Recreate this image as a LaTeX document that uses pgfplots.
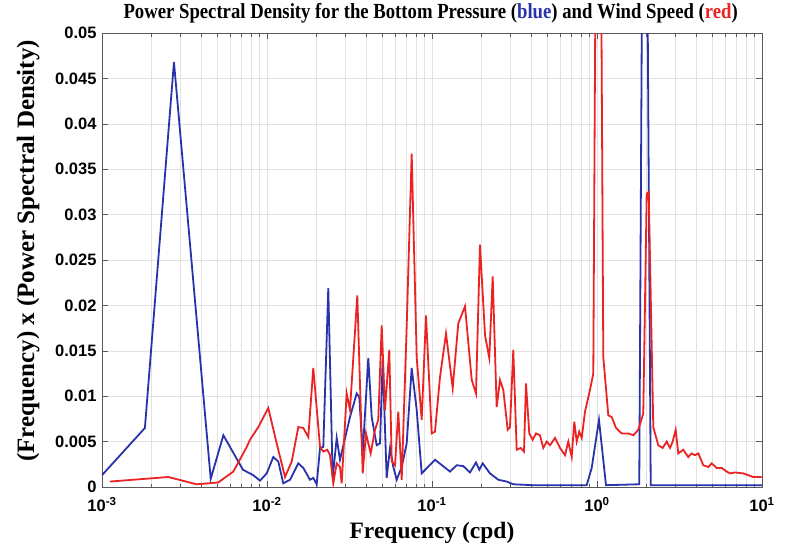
\documentclass[border=0pt]{standalone}
\usepackage{fontspec}
\setmainfont{Liberation Serif}
\newfontfamily\arialfont{Liberation Sans}
\newfontfamily\titlefont[FakeStretch=0.87]{Liberation Serif}
\usepackage{pgfplots}
\pgfplotsset{compat=1.18}
\definecolor{psdblue}{RGB}{40,50,170}
\definecolor{psdred}{RGB}{235,35,35}
\definecolor{gridgray}{RGB}{226,226,226}
\begin{document}
\begin{tikzpicture}
\useasboundingbox (-102bp,-60bp) rectangle (685bp,487bp);
\begin{axis}[
  at={(0,0)}, anchor=south west,
  scale only axis, width=660bp, height=454bp,
  xmode=log, log basis x=10,
  xmin=1e-3, xmax=10, ymin=0, ymax=0.05,
  xtick={1e-3,1e-2,1e-1,1,10},
  minor xtick={2e-3,3e-3,4e-3,5e-3,6e-3,7e-3,8e-3,9e-3,2e-2,3e-2,4e-2,5e-2,6e-2,7e-2,8e-2,9e-2,0.2,0.3,0.4,0.5,0.6,0.7,0.8,0.9,2,3,4,5,6,7,8,9},
  xticklabels={10\textsuperscript{-3},10\textsuperscript{-2},10\textsuperscript{-1},10\textsuperscript{0},10\textsuperscript{1}},
  ytick={0,0.005,0.01,0.015,0.02,0.025,0.03,0.035,0.04,0.045,0.05},
  scaled y ticks=false,
  yticklabel style={/pgf/number format/fixed,/pgf/number format/precision=3,/pgf/number format/assume math mode=true},
  tick label style={font=\arialfont\bfseries\fontsize{16.5bp}{18bp}\selectfont},
  xticklabel style={yshift=-7bp},
  yticklabel style={xshift=-2bp},
  grid=both,
  major grid style={gridgray, line width=0.6bp},
  minor grid style={gridgray, line width=0.6bp},
  axis line style={black!65, line width=0.8bp},
  tick style={black!65, line width=0.6bp},
  major tick length=6bp, minor tick length=3.5bp,
  tick align=inside,
  title={Power Spectral Density for the Bottom Pressure (\textcolor{psdblue}{blue}) and Wind Speed (\textcolor{psdred}{red})},
  title style={font=\titlefont\bfseries\fontsize{21.5bp}{22bp}\selectfont, at={(axis description cs:0.498,1.03)}, anchor=center},
  xlabel={Frequency (cpd)},
  xlabel style={font=\bfseries\fontsize{23.5bp}{25bp}\selectfont, at={(axis description cs:0.5,-0.1)}, anchor=center},
  ylabel={(Frequency) x (Power Spectral Density)},
  ylabel style={font=\bfseries\fontsize{25bp}{26bp}\selectfont, at={(axis description cs:-0.112,0.52)}, anchor=center, rotate=0},
]
\addplot[psdblue, line width=1.8bp] coordinates {
(0.001,0.0013) (0.00182,0.0065) (0.00273,0.0468) (0.00456,0.0009) (0.00544,0.0057)
(0.00715,0.0019) (0.00826,0.0013) (0.00907,0.0007) (0.00996,0.0015) (0.01092,0.0033)
(0.01171,0.0028) (0.01255,0.0004) (0.01379,0.0008) (0.01548,0.0026) (0.0166,0.0021)
(0.01822,0.0008) (0.01908,0.001) (0.02001,0.0003) (0.02096,0.0043) (0.02194,0.0044)
(0.02352,0.0219) (0.02501,0.001) (0.02645,0.0054) (0.0277,0.003) (0.03184,0.0077)
(0.03497,0.0103) (0.03626,0.0099) (0.03802,0.0037) (0.04111,0.0142) (0.04311,0.0077)
(0.04622,0.0046) (0.0484,0.0048) (0.05025,0.014) (0.05313,0.001) (0.05568,0.0043)
(0.0583,0.0022) (0.06111,0.0008) (0.06553,0.0022) (0.07026,0.0048) (0.07534,0.0131)
(0.08078,0.0085) (0.08661,0.0015) (0.1043,0.003) (0.1286,0.0017) (0.1412,0.0024)
(0.1548,0.0023) (0.170,0.0016) (0.1848,0.0027) (0.1935,0.0019) (0.2029,0.0026)
(0.2246,0.0015) (0.2522,0.0008) (0.2836,0.0006) (0.311,0.0003) (0.4094,0.0002)
(0.519,0.0002) (0.866,0.0002) (0.929,0.0021) (1.028,0.0074) (1.134,0.0002)
(1.804,0.0003) (1.908,0.08) (1.982,0.08) (2.117,0.0002) (10,0.0002)
};
\addplot[psdred, line width=1.8bp] coordinates {
(0.001118,0.0006) (0.002522,0.0011) (0.003749,0.0003) (0.005068,0.0005) (0.006249,0.0017)
(0.007534,0.0044) (0.007889,0.0052) (0.008858,0.0066) (0.01018,0.0087) (0.01145,0.0048)
(0.01286,0.0011) (0.01412,0.0028) (0.01548,0.0066) (0.0166,0.0065) (0.0178,0.0055)
(0.01908,0.0131) (0.02096,0.0044) (0.02194,0.0039) (0.0232,0.0041) (0.02409,0.0035)
(0.02522,0.0004) (0.02645,0.0026) (0.0277,0.0022) (0.02836,0.0004) (0.03041,0.0103)
(0.03184,0.0085) (0.03527,0.0211) (0.03802,0.0015) (0.03981,0.0059) (0.04251,0.0037)
(0.04512,0.0063) (0.04725,0.0074) (0.04958,0.0178) (0.05191,0.0085) (0.05512,0.0151)
(0.057,0.0028) (0.0597,0.0024) (0.06249,0.0083) (0.06553,0.0008) (0.07026,0.0177)
(0.07534,0.0367) (0.08078,0.0143) (0.08661,0.0074) (0.09197,0.0189) (0.09958,0.0059)
(0.1043,0.0061) (0.1118,0.0121) (0.1216,0.0169) (0.1335,0.0109) (0.1443,0.018)
(0.1585,0.0199) (0.1741,0.0118) (0.1848,0.0103) (0.1954,0.0267) (0.2096,0.0167)
(0.2225,0.0142) (0.2333,0.0232) (0.2466,0.0088) (0.2583,0.0118) (0.2705,0.0107)
(0.2876,0.0063) (0.297,0.0066) (0.311,0.0151) (0.3261,0.0041) (0.3448,0.0043)
(0.3611,0.0039) (0.3713,0.0114) (0.3888,0.0059) (0.4076,0.0052) (0.4268,0.0059)
(0.4512,0.0057) (0.4725,0.0043) (0.4958,0.005) (0.5191,0.0046) (0.5568,0.0054)
(0.597,0.0043) (0.64,0.0035) (0.6701,0.005) (0.7026,0.0033) (0.7285,0.0072)
(0.7534,0.005) (0.781,0.0061) (0.8078,0.0054) (0.8458,0.0083) (0.9071,0.0107)
(0.9497,0.0125) (0.9958,0.08) (1.043,0.08) (1.092,0.0143) (1.171,0.0079)
(1.228,0.0077) (1.304,0.0065) (1.412,0.0059) (1.548,0.0059) (1.660,0.0057)
(1.780,0.0063) (1.908,0.0081) (2.001,0.0323) (2.058,0.0325) (2.194,0.0066)
(2.352,0.0046) (2.501,0.0043) (2.645,0.005) (2.770,0.0043) (2.876,0.005)
(2.999,0.0063) (3.110,0.0037) (3.334,0.0041) (3.574,0.0033) (3.749,0.0037)
(3.926,0.0035) (4.111,0.0037) (4.408,0.0024) (4.725,0.0022) (4.958,0.0026)
(5.313,0.0021) (5.700,0.0021) (6.111,0.0017) (6.400,0.0015) (6.861,0.0016)
(7.704,0.0015) (8.260,0.0013) (8.858,0.0011) (9.958,0.0011)
};
\end{axis}
\end{tikzpicture}
\end{document}
